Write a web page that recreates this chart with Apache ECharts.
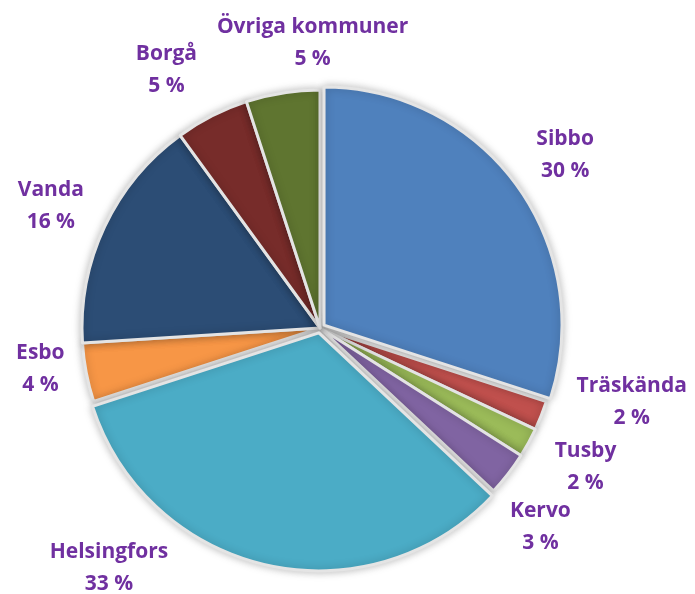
<!DOCTYPE html>
<html>
<head>
<meta charset="utf-8">
<script src="https://cdn.jsdelivr.net/npm/echarts@6/dist/echarts.min.js"></script>
<style>html,body{margin:0;padding:0;background:#fff}#c{width:695px;height:594px}</style>
</head>
<body>
<div id="c"></div>
<script>
var categories = ['Sibbo', 'Träskända', 'Tusby', 'Kervo', 'Helsingfors', 'Esbo', 'Vanda', 'Borgå', 'Övriga kommuner'];
var values = [30, 2, 2, 3, 33, 4, 16, 5, 5];
var colors = ['#4F81BD', '#C0504D', '#9BBB59', '#8064A2', '#4BACC6', '#F79646', '#2C4D75', '#772C2A', '#5F7530'];

var chart = echarts.init(document.getElementById('c'));
var explodedIdx = [0, 4];
var pieData = categories.map(function (n, i) {
  return { name: n, value: values[i], selected: explodedIdx.indexOf(i) >= 0, itemStyle: { color: colors[i] } };
});
var labelData = categories.map(function (n, i) { return { name: n, value: values[i] }; });
var nudge = { 0: [0, 5], 1: [30, -38], 2: [0, -7], 3: [-19, 13], 4: [-145, -56], 5: [18, -16], 6: [5, 7], 7: [-16, 12], 8: [40, 14] };

chart.setOption({
  animation: false,
  series: [
    {
      type: 'pie',
      center: [320, 328],
      radius: [0, 238],
      startAngle: 90,
      clockwise: true,
      selectedMode: 'multiple',
      selectedOffset: 5,
      silent: true,
      label: { show: false },
      labelLine: { show: false },
      itemStyle: { borderColor: '#e4e4e4', borderWidth: 3, shadowBlur: 8, shadowColor: 'rgba(0,0,0,0.25)' },
      data: pieData
    },
    {
      type: 'pie',
      center: [320, 328],
      radius: [240, 360],
      startAngle: 90,
      clockwise: true,
      silent: true,
      itemStyle: { color: 'rgba(0,0,0,0)' },
      labelLine: { show: false },
      label: {
        show: true,
        position: 'inside',
        formatter: function (p) { return p.name + '\n' + p.value + ' %'; },
        color: '#7030A0',
        fontFamily: 'Open Sans',
        fontWeight: 'bold',
        fontSize: 21,
        lineHeight: 32,
        align: 'center'
      },
      labelLayout: function (p) {
        var d = nudge[p.dataIndex] || [0, 0];
        return { dx: d[0], dy: d[1] };
      },
      data: labelData
    }
  ]
});
</script>
</body>
</html>
